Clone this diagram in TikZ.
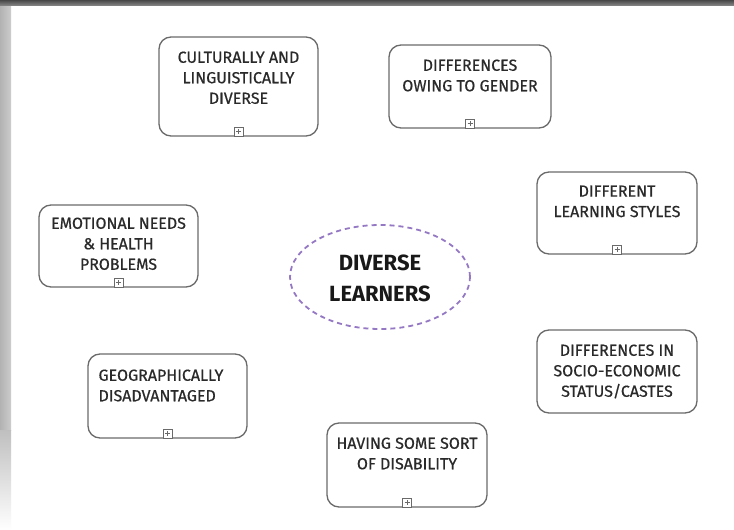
\documentclass[tikz,border=0pt]{standalone}
\usepackage{fontspec}
\setmainfont{Fira Sans}
\newfontfamily\boxfont{Fira Sans}[FakeBold=0.6]
\usetikzlibrary{shapes.geometric}
\definecolor{boxline}{HTML}{6A6A6A}
\definecolor{boxtext}{HTML}{2A2A2A}
\definecolor{dashpurple}{HTML}{9478C4}
\tikzset{
  topicbox/.style={draw=boxline, line width=1.3pt, rounded corners=12pt, fill=white, inner sep=0pt},
  topictext/.style={text=boxtext, font=\boxfont\fontsize{16}{20.5}\selectfont, align=center, inner sep=0pt, anchor=north},
  plusicon/.style={draw=boxline, line width=0.8pt, minimum size=9pt, inner sep=0pt, fill=white,
    path picture={\draw[boxline, line width=0.8pt] ([yshift=-2pt]path picture bounding box.north) -- ([yshift=2pt]path picture bounding box.south)
      ([xshift=2pt]path picture bounding box.west) -- ([xshift=-2pt]path picture bounding box.east);}},
}
\newcommand{\topic}[5]{% name, left, top, right, bottom
  \node[topicbox, minimum width={(#4-#2)*1pt}, minimum height={(#5-#3)*1pt}] (#1) at ({(#2+#4)/2},{(#3+#5)/2}) {};
}
\begin{document}
\begin{tikzpicture}[x=1pt,y=-1pt]
\useasboundingbox (0,0) rectangle (734,530);
\fill[white] (0,0) rectangle (734,530);
% frame shadows
\shade[left color=black!30, right color=black!20] (0,0) rectangle (11,430);
\shade[top color=black!25, bottom color=white] (0,430) rectangle (11,530);
\shade[top color=black!72, bottom color=black!50] (0,0) rectangle (734,5);

% boxes
\topic{cult}{159}{37}{318}{136}
\node[topictext] (cultT) at ([yshift=-15pt]cult.north) {CULTURALLY AND\\LINGUISTICALLY\\DIVERSE};
\node[plusicon] (cultP) at ([yshift=5pt]cult.south) {};

\topic{gend}{389}{45}{551}{128}
\node[topictext] (gendT) at ([yshift=-15pt]gend.north) {DIFFERENCES\\OWING TO GENDER};
\node[plusicon] (gendP) at ([yshift=5pt]gend.south) {};

\topic{styl}{537}{172}{697}{254}
\node[topictext] (stylT) at ([yshift=-14pt]styl.north) {DIFFERENT\\LEARNING STYLES};
\node[plusicon] (stylP) at ([yshift=5pt]styl.south) {};

\topic{emot}{39}{205}{198}{287}
\node[topictext] (emotT) at ([yshift=-13pt]emot.north) {EMOTIONAL NEEDS\\\&~HEALTH\\PROBLEMS};
\node[plusicon] (emotP) at ([yshift=5pt]emot.south) {};

\topic{soci}{537}{330}{697}{413}
\node[topictext] (sociT) at ([yshift=-15pt]soci.north) {DIFFERENCES IN\\SOCIO-ECONOMIC\\STATUS/CASTES};

\topic{geog}{88}{354}{247}{438}
\node[topictext, anchor=north west, align=left] (geogT) at ([xshift=11pt,yshift=-16pt]geog.north west) {GEOGRAPHICALLY\\DISADVANTAGED};
\node[plusicon] (geogP) at ([yshift=5pt]geog.south) {};

\topic{disa}{327}{423}{487}{507}
\node[topictext] (disaT) at ([yshift=-15pt]disa.north) {HAVING SOME SORT\\OF DISABILITY};
\node[plusicon] (disaP) at ([yshift=5pt]disa.south) {};

% centre
\node[ellipse, draw=dashpurple, line width=1.8pt, dash pattern=on 5pt off 4pt,
      minimum width=180pt, minimum height=104pt, inner sep=0pt] (centre) at (380,277) {};
\node[font=\fontsize{22}{31}\selectfont\bfseries, text=black!90, align=center, inner sep=0pt] (centreT) at ([yshift=-1pt]centre.center) {DIVERSE\\LEARNERS};
\end{tikzpicture}
\end{document}
